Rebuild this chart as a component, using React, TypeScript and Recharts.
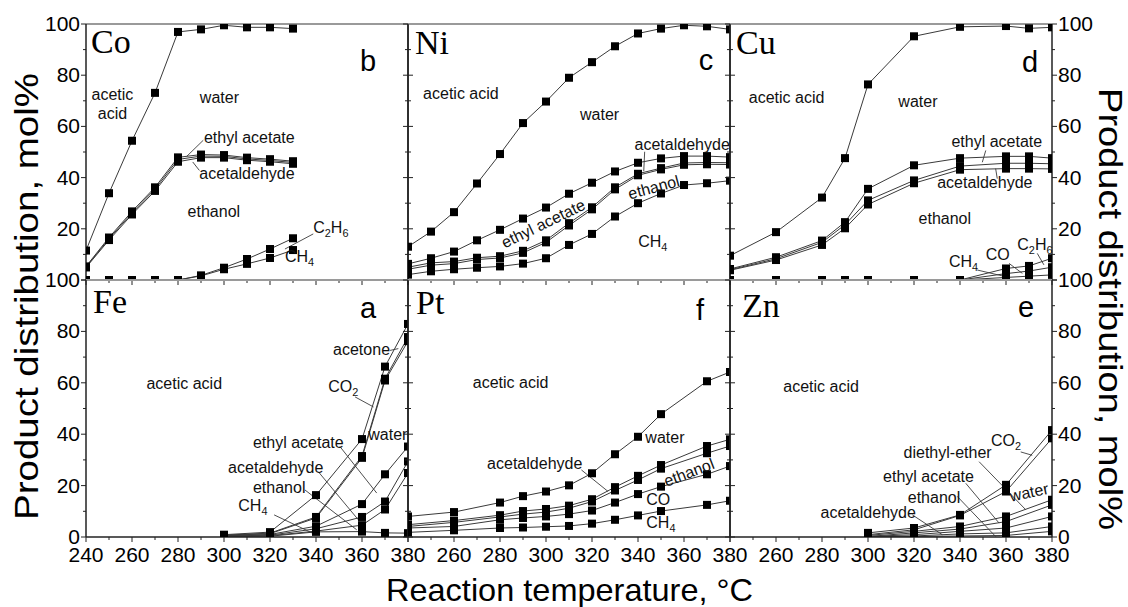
import React from 'react';
import { LineChart, Line, XAxis, YAxis, ReferenceDot, ReferenceLine } from 'recharts';

const W = 1128;
const H = 607;
const COLS = [86, 408, 730, 1052];
const ROWS = [24, 280, 537];
const SANS = '"Liberation Sans", Arial, sans-serif';
const SERIF = '"Liberation Serif", "Times New Roman", serif';

const X_TICKS = [240, 250, 260, 270, 280, 290, 300, 310, 320, 330, 340, 350, 360, 370, 380];
const Y_TICKS = [0, 10, 20, 30, 40, 50, 60, 70, 80, 90, 100];

// ---- Co (b) : cumulative boundaries, lower edge of each named region ----
const coT = [240, 250, 260, 270, 280, 290, 300, 310, 320, 330];
const coAceticAcid = [11.5, 33.9, 54.4, 73.1, 96.9, 97.9, 99.5, 98.7, 98.7, 98.2];
const coWater = [5.3, 16.6, 26.8, 36.2, 47.9, 49.0, 48.8, 47.8, 47.2, 46.4];
const coEthylAcetate = [5.1, 16.1, 26.2, 35.5, 47.1, 48.4, 48.3, 47.3, 46.7, 45.9];
const coAcetaldehyde = [4.9, 15.6, 25.6, 34.8, 46.2, 47.8, 47.8, 46.8, 46.2, 45.4];
const coEthanol = [0, 0, 0, 0, 0, 1.8, 4.8, 8.2, 12.1, 16.3];
const coC2H6 = [0, 0, 0, 0, 0, 1.6, 4.2, 6.3, 8.6, 11.7];

// ---- Ni (c) ----
const niT = [240, 250, 260, 270, 280, 290, 300, 310, 320, 330, 340, 350, 360, 370, 380];
const niAceticAcid = [13.0, 18.9, 26.5, 37.7, 49.2, 61.3, 69.7, 79.0, 85.1, 91.3, 96.3, 98.2, 99.5, 99.1, 97.9];
const niWater = [6.3, 8.5, 11.1, 15.5, 19.6, 24.0, 28.3, 33.7, 38.0, 42.4, 45.8, 47.5, 48.4, 48.4, 48.0];
const niEthylAcetate = [5.0, 6.7, 7.2, 8.7, 9.3, 11.4, 15.5, 22.2, 28.4, 36.2, 41.5, 43.7, 45.7, 45.9, 45.8];
const niAcetaldehyde = [4.2, 5.8, 6.4, 8.0, 8.6, 10.6, 14.7, 21.3, 27.6, 35.4, 40.9, 43.2, 45.0, 45.2, 45.1];
const niEthanol = [2.1, 3.4, 4.2, 4.8, 5.3, 6.4, 8.5, 13.7, 18.0, 24.8, 30.0, 33.8, 37.1, 37.8, 38.8];

// ---- Cu (d) ----
const cuT = [240, 260, 280, 290, 300, 320, 340, 360, 370, 380];
const cuAceticAcid = [9.5, 18.7, 32.2, 47.6, 76.4, 95.2, 98.9, 99.2, 98.3, 98.7];
const cuWater = [4.3, 8.9, 15.4, 22.6, 35.6, 44.8, 47.6, 48.3, 48.3, 47.6];
const cuEthylAcetate = [4.0, 8.3, 14.7, 21.6, 31.1, 38.9, 44.5, 45.6, 45.6, 45.4];
const cuAcetaldehyde = [3.8, 7.8, 13.7, 20.2, 29.5, 37.8, 43.1, 43.5, 43.5, 43.4];
const cuEthanol = [0, 0, 0, 0, 0, 0, 0, 4.5, 5.5, 8.5];
const cuC2H6 = [0, 0, 0, 0, 0, 0, 0, 2.5, 3.5, 5.0];
const cuCO = [0, 0, 0, 0, 0, 0, 0, 1.0, 1.5, 2.0];

// ---- Fe (a) ----
const feT = [300, 320, 340, 360, 370, 380];
const feAceticAcid = [0.9, 1.9, 16.3, 38.1, 66.3, 82.9];
const feAcetone = [0.7, 1.5, 7.8, 31.5, 61.6, 77.8];
const feCO2 = [0.6, 1.3, 7.4, 30.8, 60.9, 76.2];
const feWater = [0.5, 1.0, 4.2, 12.8, 24.4, 35.2];
const feEthylAcetate = [0.4, 0.7, 3.2, 7.8, 13.8, 29.4];
const feAcetaldehyde = [0.3, 0.5, 2.3, 4.6, 10.7, 24.9];
const feEthanol = [0.2, 0.3, 2.0, 2.1, 1.6, 1.5];

// ---- Pt (f) ----
const ptT = [240, 260, 280, 290, 300, 310, 320, 330, 340, 350, 370, 380];
const ptAceticAcid = [8.0, 9.7, 13.4, 15.9, 17.7, 20.1, 24.8, 32.2, 39.0, 47.8, 60.6, 64.2];
const ptWater = [4.8, 6.4, 8.5, 10.1, 10.9, 12.2, 14.7, 19.4, 23.8, 28.0, 35.4, 38.0];
const ptAcetaldehyde = [4.1, 5.7, 7.8, 8.9, 9.7, 11.2, 13.8, 18.1, 22.2, 26.6, 32.6, 35.4];
const ptEthanol = [3.5, 4.1, 6.7, 7.4, 8.0, 8.9, 10.3, 13.4, 16.7, 19.6, 24.4, 27.6];
const ptCO = [1.8, 2.6, 3.5, 3.7, 4.0, 4.3, 5.2, 6.7, 8.4, 10.1, 12.5, 14.1];

// ---- Zn (e) ----
const znT = [300, 320, 340, 360, 380];
const znAceticAcid = [1.6, 3.5, 8.6, 20.3, 41.6];
const znCO2 = [0.9, 2.8, 8.4, 17.7, 38.4];
const znWater = [0.6, 2.2, 4.1, 8.0, 14.5];
const znDiethylEther = [0.2, 1.6, 3.1, 6.0, 12.5];
const znEthylAcetate = [0.2, 0.9, 2.2, 3.5, 8.0];
const znEthanol = [0.1, 0.4, 1.2, 1.6, 4.1];
const znAcetaldehyde = [0.0, 0.2, 0.4, 0.6, 2.2];

type Note = { x: number; y: number; t: string; anchor?: 'start' | 'middle' | 'end'; rot?: number };

const coNotes: Note[] = [
  { x: 251.5, y: 70.3, t: 'acetic' }, { x: 251.5, y: 62.9, t: 'acid' },
  { x: 298, y: 69, t: 'water' }, { x: 311, y: 53.4, t: 'ethyl acetate' },
  { x: 310, y: 39.3, t: 'acetaldehyde' }, { x: 295.6, y: 24.7, t: 'ethanol' },
  { x: 338.8, y: 18.4, t: 'C_2H_6', anchor: 'start' }, { x: 326.5, y: 7.2, t: 'CH_4', anchor: 'start' },
];
const coLeaders = [[291, 54.6, 283.8, 48.3], [289.3, 42.8, 286.4, 46.1], [338.8, 18, 326.5, 12.1]];

const niNotes: Note[] = [
  { x: 263, y: 70.6, t: 'acetic acid' }, { x: 323.3, y: 62.5, t: 'water' },
  { x: 359.2, y: 50.8, t: 'acetaldehyde' }, { x: 298.7, y: 22.2, t: 'ethyl acetate', rot: -26 },
  { x: 346.8, y: 36.4, t: 'ethanol', rot: -15 }, { x: 346.4, y: 13.0, t: 'CH_4' },
];
const niLeaders = [[342.9, 50.1, 342.5, 42.5]];

const cuNotes: Note[] = [
  { x: 264.6, y: 69, t: 'acetic acid' }, { x: 321.7, y: 67.5, t: 'water' },
  { x: 356, y: 52.1, t: 'ethyl acetate' }, { x: 350.8, y: 35.8, t: 'acetaldehyde' },
  { x: 333.4, y: 21.9, t: 'ethanol' }, { x: 335.2, y: 5.2, t: 'CH_4', anchor: 'start' },
  { x: 351.2, y: 7.8, t: 'CO', anchor: 'start' }, { x: 364.9, y: 11.7, t: 'C_2H_6', anchor: 'start' },
];
const cuLeaders = [[347.5, 3.9, 359.9, 1.3], [361.3, 6.5, 367.1, 2.6], [373.6, 10.4, 376.5, 5.9], [351.2, 50.6, 349.7, 46.0], [356.2, 39.6, 355.5, 43.5]];

const feNotes: Note[] = [
  { x: 282.7, y: 57.5, t: 'acetic acid' }, { x: 359.8, y: 70.7, t: 'acetone' },
  { x: 345.3, y: 56.5, t: 'CO_2', anchor: 'start' }, { x: 332.3, y: 34.5, t: 'ethyl acetate' },
  { x: 362.7, y: 37.7, t: 'water', anchor: 'start' }, { x: 322.5, y: 25, t: 'acetaldehyde' },
  { x: 324, y: 17.3, t: 'ethanol' }, { x: 306.2, y: 10.3, t: 'CH_4', anchor: 'start' },
];
const feLeaders = [[372.2, 72.6, 375.8, 73.3], [357, 54.5, 365, 50.6], [350.4, 35.2, 366.4, 17.1], [341, 25.4, 358.4, 6.7], [335.2, 18.3, 357.7, 2.8], [321.8, 8.6, 339.9, 0.9]];

const ptNotes: Note[] = [
  { x: 284.6, y: 57.8, t: 'acetic acid' }, { x: 351.7, y: 36.5, t: 'water' },
  { x: 295.1, y: 26.5, t: 'acetaldehyde' }, { x: 362.1, y: 25.3, t: 'ethanol', rot: -21 },
  { x: 343.6, y: 12.6, t: 'CO', anchor: 'start' }, { x: 343.6, y: 3.5, t: 'CH_4', anchor: 'start' },
];
const ptLeaders = [[315.4, 26.1, 327, 17.7]];

const znNotes: Note[] = [
  { x: 279.6, y: 56.5, t: 'acetic acid' }, { x: 353.5, y: 35.6, t: 'CO_2', anchor: 'start' },
  { x: 334.6, y: 30.6, t: 'diethyl-ether' }, { x: 326.3, y: 21.3, t: 'ethyl acetate' },
  { x: 370, y: 17.6, t: 'water', rot: -12 }, { x: 328.7, y: 13.2, t: 'ethanol' },
  { x: 300.1, y: 7.4, t: 'acetaldehyde' },
];
const znLeaders = [[366.4, 33.1, 371.4, 31.8], [348.3, 29.3, 368.6, 10.6], [342.5, 20.9, 357, 5.4], [338.8, 15.8, 355.5, 0.2], [319.3, 8.6, 332.3, 0.9]];

type Panel = {
  name: string; letter: string; col: number; row: number;
  temps: number[]; series: number[][]; notes: Note[]; leaders: number[][];
};

const PANELS: Panel[] = [
  { name: 'Co', letter: 'b', col: 0, row: 0, temps: coT, series: [coAceticAcid, coWater, coEthylAcetate, coAcetaldehyde, coEthanol, coC2H6], notes: coNotes, leaders: coLeaders },
  { name: 'Ni', letter: 'c', col: 1, row: 0, temps: niT, series: [niAceticAcid, niWater, niEthylAcetate, niAcetaldehyde, niEthanol], notes: niNotes, leaders: niLeaders },
  { name: 'Cu', letter: 'd', col: 2, row: 0, temps: cuT, series: [cuAceticAcid, cuWater, cuEthylAcetate, cuAcetaldehyde, cuEthanol, cuC2H6, cuCO], notes: cuNotes, leaders: cuLeaders },
  { name: 'Fe', letter: 'a', col: 0, row: 1, temps: feT, series: [feAceticAcid, feAcetone, feCO2, feWater, feEthylAcetate, feAcetaldehyde, feEthanol], notes: feNotes, leaders: feLeaders },
  { name: 'Pt', letter: 'f', col: 1, row: 1, temps: ptT, series: [ptAceticAcid, ptWater, ptAcetaldehyde, ptEthanol, ptCO], notes: ptNotes, leaders: ptLeaders },
  { name: 'Zn', letter: 'e', col: 2, row: 1, temps: znT, series: [znAceticAcid, znCO2, znWater, znDiethylEther, znEthylAcetate, znEthanol, znAcetaldehyde], notes: znNotes, leaders: znLeaders },
];

const renderRich = (t: string, fs: number) => {
  const parts: React.ReactNode[] = [];
  let sub = false;
  let i = 0;
  let k = 0;
  while (i < t.length) {
    if (t[i] === '_') {
      parts.push(<tspan key={k++} fontSize={fs * 0.68} dy={4}>{t[i + 1]}</tspan>);
      sub = true;
      i += 2;
    } else {
      parts.push(<tspan key={k++} dy={sub ? -4 : 0}>{t[i]}</tspan>);
      sub = false;
      i += 1;
    }
  }
  return parts;
};

const makeTick = (orient: 'left' | 'right' | 'top' | 'bottom', showLabel: (v: number) => boolean, tickOn: boolean) => (props: any) => {
  const { x, y, payload, index } = props;
  const v = payload.value as number;
  const major = v % 20 === 0;
  const len = tickOn ? (major ? 5 : 3) : 0;
  const lbl = major && showLabel(v);
  const tl = { stroke: '#222', strokeWidth: 1 };
  const txt = { fontFamily: SANS, fontSize: 21, fill: '#000' };
  if (orient === 'left') {
    return (
      <g key={`l${index}`}>
        {len > 0 && <line x1={x} x2={x - len} y1={y} y2={y} {...tl} />}
        {lbl && <text x={x - 6} y={y + 7} textAnchor="end" {...txt}>{v}</text>}
      </g>
    );
  }
  if (orient === 'right') {
    return (
      <g key={`r${index}`}>
        {len > 0 && <line x1={x} x2={x + len} y1={y} y2={y} {...tl} />}
        {lbl && <text x={x + 6} y={y + 7} textAnchor="start" {...txt}>{v}</text>}
      </g>
    );
  }
  if (orient === 'top') {
    return (
      <g key={`t${index}`}>
        {len > 0 && <line x1={x} x2={x} y1={y} y2={y - len} {...tl} />}
      </g>
    );
  }
  return (
    <g key={`b${index}`}>
      {len > 0 && <line x1={x} x2={x} y1={y} y2={y + len} {...tl} />}
      {lbl && <text x={x} y={y + 25} textAnchor="middle" {...txt}>{v}</text>}
    </g>
  );
};

const squareDot = (props: any) => {
  const { cx, cy, index } = props;
  if (cx == null || cy == null) return <g key={`n${index}`} />;
  return <rect key={`d${index}`} x={cx - 4} y={cy - 4} width={8} height={8} fill="#000" />;
};

const GRAY = { stroke: '#9a9a9a', strokeWidth: 2 };
const DARK = { stroke: '#222', strokeWidth: 1.5 };

function PanelChart({ p }: { p: Panel }) {
  const x0 = COLS[p.col];
  const x1 = COLS[p.col + 1];
  const y0 = ROWS[p.row];
  const y1 = ROWS[p.row + 1];
  const data = p.temps.map((t, i) => {
    const r: any = { t };
    p.series.forEach((s, k) => { r['s' + k] = s[i]; });
    return r;
  });
  // each axis takes 1px of the margin, so the plot area lands exactly on the panel rectangle
  const margin = { left: x0 - 1, right: W - x1 - 1, top: y0 - 1, bottom: H - y1 - 1 };
  const top = p.row === 0;
  const leftLbl = p.col === 0 ? (v: number) => (top ? v > 0 : true) : () => false;
  const rightLbl = p.col === 2 ? (v: number) => (top ? v > 0 : true) : () => false;
  const botLbl = !top ? (v: number) => (p.col === 0 ? true : v > 240) : () => false;
  return (
    <div style={{ position: 'absolute', left: 0, top: 0 }}>
      <LineChart width={W} height={H} margin={margin} data={data}>
        <XAxis xAxisId="b" type="number" dataKey="t" domain={[240, 380]} ticks={X_TICKS} interval={0}
          orientation="bottom" height={1} tickSize={0} tickMargin={0} tickLine={false}
          axisLine={top ? GRAY : DARK} tick={makeTick('bottom', botLbl, true)} allowDataOverflow />
        <XAxis xAxisId="t" type="number" dataKey="t" domain={[240, 380]} ticks={X_TICKS} interval={0}
          orientation="top" height={1} tickSize={0} tickMargin={0} tickLine={false}
          axisLine={GRAY} tick={makeTick('top', () => false, false)} allowDataOverflow />
        <YAxis yAxisId="L" type="number" domain={[0, 100]} ticks={Y_TICKS} interval={0}
          orientation="left" width={1} tickSize={0} tickMargin={0} tickLine={false}
          axisLine={DARK} tick={makeTick('left', leftLbl, true)} allowDataOverflow />
        <YAxis yAxisId="R" type="number" domain={[0, 100]} ticks={Y_TICKS} interval={0}
          orientation="right" width={1} tickSize={0} tickMargin={0} tickLine={false}
          axisLine={DARK} tick={makeTick('right', rightLbl, true)} allowDataOverflow />
        {p.leaders.map((l, i) => (
          <ReferenceLine key={`ld${i}`} xAxisId="b" yAxisId="L" segment={[{ x: l[0], y: l[1] }, { x: l[2], y: l[3] }]}
            stroke="#222" strokeWidth={0.8} ifOverflow="visible" />
        ))}
        {p.series.map((_, k) => (
          <Line key={`s${k}`} xAxisId="b" yAxisId="L" type="linear" dataKey={'s' + k} stroke="#3a3a3a" strokeWidth={1}
            dot={squareDot} activeDot={false} isAnimationActive={false} legendType="none" />
        ))}
        <Line xAxisId="t" yAxisId="R" dataKey="s0" stroke="none" dot={false} activeDot={false} isAnimationActive={false} legendType="none" />
        {p.notes.map((n, i) => (
          <ReferenceDot key={`nt${i}`} xAxisId="b" yAxisId="L" x={n.x} y={n.y} r={0} ifOverflow="visible"
            shape={(sp: any) => (
              <text x={sp.cx} y={sp.cy} textAnchor={n.anchor || 'middle'} fontFamily={SANS} fontSize={16} fill="#111"
                dominantBaseline={n.rot ? 'central' : undefined}
                transform={n.rot ? `rotate(${n.rot}, ${sp.cx}, ${sp.cy})` : undefined}>
                {renderRich(n.t, 16)}
              </text>
            )} />
        ))}
      </LineChart>
    </div>
  );
}

const NAME_POS: Record<string, [number, number]> = {
  Co: [91, 53], Ni: [415, 54], Cu: [736, 54], Fe: [93, 313], Pt: [416, 314], Zn: [742, 317],
};
const LETTER_POS: Record<string, [number, number]> = {
  b: [368, 71], c: [706, 70], d: [1030, 72], a: [368, 318], f: [700, 320], e: [1026, 317],
};

export default function App() {
  return (
    <div style={{ position: 'absolute', left: 0, top: 0, width: W, height: H, background: '#fff', overflow: 'hidden' }}>
      {PANELS.map((p) => <PanelChart key={p.name} p={p} />)}
      <svg width={W} height={H} style={{ position: 'absolute', left: 0, top: 0, pointerEvents: 'none' }}>
        {PANELS.map((p) => (
          <g key={`lab${p.name}`}>
            <text x={NAME_POS[p.name][0]} y={NAME_POS[p.name][1]} fontFamily={SERIF} fontSize={34} fill="#000">{p.name}</text>
            <text x={LETTER_POS[p.letter][0]} y={LETTER_POS[p.letter][1]} textAnchor="middle" fontFamily={SANS} fontSize={29} fill="#000">{p.letter}</text>
          </g>
        ))}
        <text x={569.5} y={601} textAnchor="middle" fontFamily={SANS} fontSize={32} textLength={367} lengthAdjust="spacingAndGlyphs" fill="#000">Reaction temperature, °C</text>
        <text transform="translate(37.5,296.5) rotate(-90)" textAnchor="middle" fontFamily={SANS} fontSize={33} textLength={447} lengthAdjust="spacingAndGlyphs" fill="#000">Product distribution, mol%</text>
        <text transform="translate(1099,309) rotate(90)" textAnchor="middle" fontFamily={SANS} fontSize={33} textLength={442} lengthAdjust="spacingAndGlyphs" fill="#000">Product distribution, mol%</text>
      </svg>
    </div>
  );
}
